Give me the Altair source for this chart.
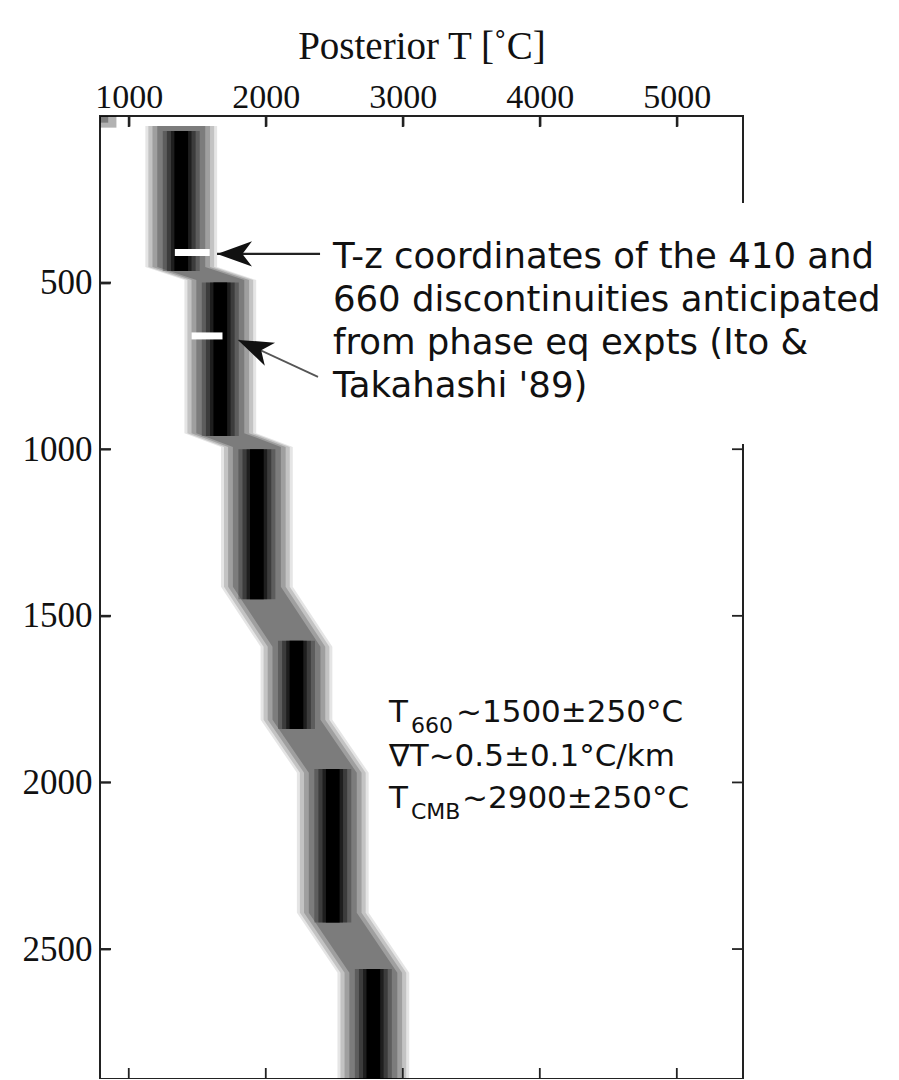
import altair as alt
import pandas as pd

# ---------------- data ----------------
# posterior band: layered blocks (depth in km, centre temperature in C)
block_top = [30, 492, 993, 1593, 1971, 2571]
block_bottom = [453, 952, 1413, 1812, 2391, 2890]
block_T = [1383, 1668, 1935, 2224, 2489, 2785]
core_top = [45, 500, 1000, 1575, 1960, 2560]
core_bottom = [465, 960, 1450, 1840, 2420, 2890]

# small smudge in the top-left corner
smudge_T_hi = [910, 850]
smudge_depth_hi = [35, 20]

# white dashes: 410 and 660 discontinuities
disc_depth = [410, 660]
disc_T_lo = [1336, 1458]
disc_T_hi = [1591, 1684]

x_ticks = [1000, 2000, 3000, 4000, 5000]
y_ticks = [500, 1000, 1500, 2000, 2500]

note_lines = [
    "T-z coordinates of the 410 and",
    "660 discontinuities anticipated",
    "from phase eq expts (Ito &",
    "Takahashi '89)",
]
note_T = 2490
note_depth = [423, 552, 681, 810]

est_main = ["T", "\u2207T~0.5\u00b10.1\u00b0C/km", "T"]
est_rest = ["~1500\u00b1250\u00b0C", "", "~2900\u00b1250\u00b0C"]
est_sub = ["660", "", "CMB"]
est_T = 2899
est_depth = [1818, 1950, 2076]

# arrows: tail -> tip
arrow_tail_T = [2396, 2381]
arrow_tail_depth = [414, 783]
arrow_tip_T = [1644, 1797]
arrow_tip_depth = [414, 672]
arrow_angle = [0, 24]

# white box behind the note (hides the right frame)
box_T = [2381, 6700]
box_depth = [261, 984]

# ---------------- scales / axes ----------------
W, H = 643, 963
T_MIN, T_MAX = 790, 5483
D_MIN, D_MAX = 0, 2890
xs = alt.Scale(domain=[T_MIN, T_MAX], nice=False, zero=False)
ys = alt.Scale(domain=[D_MIN, D_MAX], nice=False, zero=False, reverse=True)

# axes pulled 10 px inside the frame so that their 10 px ticks point inward
X_AXIS = alt.Axis(
    orient="top", values=x_ticks, format="d", domain=False, grid=False,
    ticks=True, tickSize=10, tickColor="#222", tickWidth=1.8, offset=-10,
    labelFont="Liberation Serif", labelFontSize=34, labelColor="#111", labelPadding=2,
    labelFlush=False, labelOverlap=False, zindex=1,
    title="Posterior T [\u02daC]", titleFont="Liberation Serif", titleFontSize=39,
    titleFontWeight="normal", titleColor="#111", titlePadding=14)
Y_AXIS = alt.Axis(
    orient="left", values=y_ticks, format="d", domain=False, grid=False,
    ticks=True, tickSize=10, tickColor="#222", tickWidth=1.8, offset=-10,
    labelFont="Liberation Serif", labelFontSize=35, labelColor="#111", labelPadding=8,
    labelOverlap=False, zindex=1, title=None)


def xq(f):
    return alt.X(f"{f}:Q", scale=xs, axis=X_AXIS)


def yq(f):
    return alt.Y(f"{f}:Q", scale=ys, axis=Y_AXIS)


path_rows = []
for t, b, T in zip(block_top, block_bottom, block_T):
    path_rows.append({"depth": t, "T": T})
    path_rows.append({"depth": b, "T": T})
path_df = pd.DataFrame(path_rows)
core_df = pd.DataFrame({"top": core_top, "bottom": core_bottom, "T": block_T})

# shading levels (half-width in C, opacity)
band_halfwidth = [262, 240, 210, 175]
band_opacity = [0.1, 0.15, 0.18, 0.22]
core_halfwidth = [135, 105, 75, 50]
core_opacity = [0.25, 0.35, 0.5, 1.0]

layers = []
for hw, op in zip(band_halfwidth, band_opacity):
    layers.append(
        alt.Chart(path_df)
        .transform_calculate(lo=f"datum.T - {hw}", hi=f"datum.T + {hw}")
        .mark_area(orient="horizontal", color="black", opacity=op)
        .encode(y=yq("depth"), x=xq("lo"), x2="hi:Q")
    )

for hw, op in zip(core_halfwidth, core_opacity):
    layers.append(
        alt.Chart(core_df)
        .transform_calculate(lo=f"datum.T - {hw}", hi=f"datum.T + {hw}")
        .mark_rect(color="black", opacity=op)
        .encode(x=xq("lo"), x2="hi:Q", y=yq("top"), y2="bottom:Q")
    )

smudge_df = pd.DataFrame({"lo": [T_MIN, T_MIN], "hi": smudge_T_hi, "top": [0, 0], "bottom": smudge_depth_hi})
layers.append(
    alt.Chart(smudge_df).mark_rect(color="black", opacity=0.3)
    .encode(x=xq("lo"), x2="hi:Q", y=yq("top"), y2="bottom:Q")
)

# inward ticks on all four sides, drawn as thin rectangles (about 11 px x 2 px)
px_T = (T_MAX - T_MIN) / W     # degrees per pixel
px_D = (D_MAX - D_MIN) / H     # km per pixel
seg = []
for t in x_ticks:
    seg.append({"x1": t - 1.0 * px_T, "x2": t + 1.0 * px_T, "y1": D_MIN + 0.5 * px_D, "y2": D_MIN + 11 * px_D})
    seg.append({"x1": t - 0.9 * px_T, "x2": t + 0.9 * px_T, "y1": D_MAX - 11 * px_D, "y2": D_MAX - 1 * px_D})
for d in y_ticks:
    seg.append({"x1": T_MIN + 0.5 * px_T, "x2": T_MIN + 11 * px_T, "y1": d - 1.0 * px_D, "y2": d + 1.0 * px_D})
    seg.append({"x1": T_MAX - 11 * px_T, "x2": T_MAX - 1 * px_T, "y1": d - 0.9 * px_D, "y2": d + 0.9 * px_D})
tick_df = pd.DataFrame(seg)
layers.append(alt.Chart(tick_df).mark_rect(color="#222").encode(
    x=xq("x1"), x2="x2:Q", y=yq("y1"), y2="y2:Q"))

# white note box
box_df = pd.DataFrame({"lo": [box_T[0]], "hi": [box_T[1]], "top": [box_depth[0]], "bottom": [box_depth[1]]})
layers.append(alt.Chart(box_df).mark_rect(color="white").encode(
    x=xq("lo"), x2="hi:Q", y=yq("top"), y2="bottom:Q"))

# white discontinuity dashes
disc_df = pd.DataFrame({"depth": disc_depth, "lo": disc_T_lo, "hi": disc_T_hi})
layers.append(alt.Chart(disc_df).mark_rule(color="white", strokeWidth=7).encode(
    x=xq("lo"), x2="hi:Q", y=yq("depth")))

# arrows
arr_df = pd.DataFrame({"tT": arrow_tail_T, "td": arrow_tail_depth,
                       "hT": arrow_tip_T, "hd": arrow_tip_depth, "ang": arrow_angle,
                       "k": ["a", "b"]})
layers.append(alt.Chart(arr_df).transform_filter("datum.k == 'a'").mark_rule(color="#222", strokeWidth=2.2).encode(
    x=xq("tT"), x2="hT:Q", y=yq("td"), y2="hd:Q"))
layers.append(alt.Chart(arr_df).transform_filter("datum.k == 'b'").mark_rule(color="#555", strokeWidth=1.8).encode(
    x=xq("tT"), x2="hT:Q", y=yq("td"), y2="hd:Q"))
layers.append(alt.Chart(arr_df).mark_point(
    shape="M 0 0 L 2 -0.72 L 1.45 0 L 2 0.72 Z", filled=True, color="#111", opacity=1, size=1225
).encode(x=xq("hT"), y=yq("hd"), angle=alt.Angle("ang:Q", scale=None)))

# note text
note_df = pd.DataFrame({"T": [note_T] * 4, "depth": note_depth, "txt": note_lines})
layers.append(alt.Chart(note_df).mark_text(
    align="left", baseline="middle", font="DejaVu Sans", fontSize=35.5, color="#111"
).encode(x=xq("T"), y=yq("depth"), text="txt:N"))

est_df = pd.DataFrame({"T": [est_T] * 3, "depth": est_depth, "main": est_main,
                       "rest": est_rest, "sub": est_sub})
layers.append(alt.Chart(est_df).mark_text(
    align="left", baseline="alphabetic", font="DejaVu Sans", fontSize=31, color="#111"
).encode(x=xq("T"), y=yq("depth"), text="main:N"))
layers.append(alt.Chart(est_df).mark_text(
    align="left", baseline="alphabetic", font="DejaVu Sans", fontSize=22, color="#111", dx=22, dy=11
).encode(x=xq("T"), y=yq("depth"), text="sub:N"))
layers.append(alt.Chart(est_df.iloc[[0]]).mark_text(
    align="left", baseline="alphabetic", font="DejaVu Sans", fontSize=31, color="#111", dx=67
).encode(x=xq("T"), y=yq("depth"), text="rest:N"))
layers.append(alt.Chart(est_df.iloc[[2]]).mark_text(
    align="left", baseline="alphabetic", font="DejaVu Sans", fontSize=31, color="#111", dx=73
).encode(x=xq("T"), y=yq("depth"), text="rest:N"))

chart = alt.layer(*layers).properties(
    width=W, height=H,
    autosize=alt.AutoSizeParams(type="none"),
    padding={"left": 92, "top": 108, "right": 146, "bottom": 0},
).configure_view(stroke="#222", strokeWidth=2)

chart.save("out.html", embed_options={"renderer": "svg", "actions": False})
